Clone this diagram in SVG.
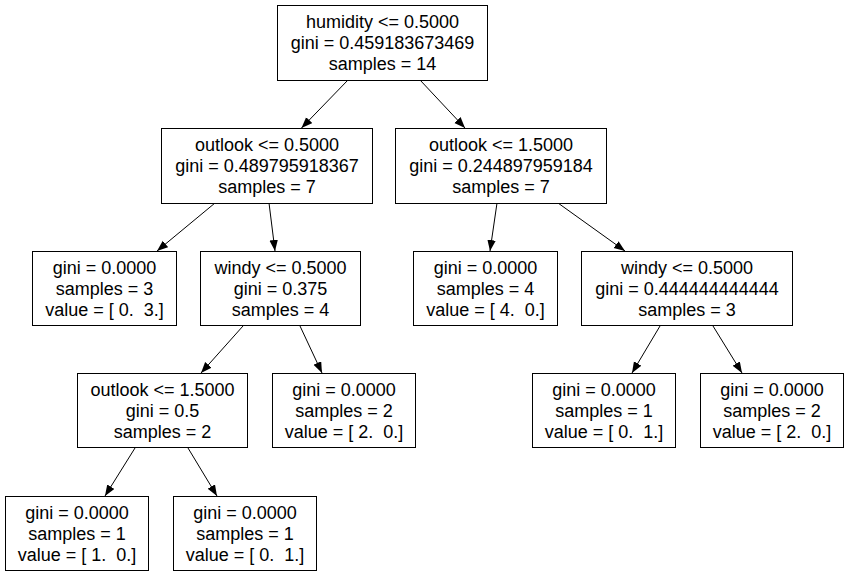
<svg xmlns="http://www.w3.org/2000/svg" width="848" height="576" viewBox="0 0 848 576">
<style>
.n rect{fill:#fff;stroke:#000;stroke-width:1}
.n text{font-family:"Liberation Sans",Arial,Helvetica,sans-serif;font-size:18px;fill:#000;text-anchor:middle;white-space:pre}
.e line{stroke:#000;stroke-width:1;marker-end:url(#ah)}
</style>
<defs>
<marker id="ah" markerUnits="userSpaceOnUse" markerWidth="12" markerHeight="9" refX="11" refY="4.25" orient="auto">
<path d="M0,0 L11,4.25 L0,8.5 z" fill="#000"/>
</marker>
</defs>
<rect width="848" height="576" fill="#fff"/>
<g id="edges" class="e">
<line x1="348" y1="80" x2="301.5" y2="128"/>
<line x1="420" y1="80" x2="465" y2="128"/>
<line x1="215" y1="203" x2="157" y2="251"/>
<line x1="269" y1="203" x2="275" y2="251"/>
<line x1="497" y1="203" x2="490" y2="251"/>
<line x1="558" y1="203" x2="625" y2="251"/>
<line x1="243" y1="326" x2="201" y2="373"/>
<line x1="300" y1="326" x2="322" y2="373"/>
<line x1="660" y1="326" x2="632" y2="373"/>
<line x1="713" y1="326" x2="742" y2="373"/>
<line x1="135" y1="448" x2="105" y2="496"/>
<line x1="188" y1="448" x2="217" y2="496"/>
</g>
<g id="n0" class="n">
<rect x="277.5" y="5.5" width="210" height="75"/>
<text x="382.5" y="27.5">humidity &lt;= 0.5000</text>
<text x="382.5" y="48.5">gini = 0.459183673469</text>
<text x="382.5" y="69.5">samples = 14</text>
</g>
<g id="n1" class="n">
<rect x="161.5" y="128.5" width="211" height="75"/>
<text x="267" y="150.5">outlook &lt;= 0.5000</text>
<text x="267" y="171.5">gini = 0.489795918367</text>
<text x="267" y="192.5">samples = 7</text>
</g>
<g id="n2" class="n">
<rect x="395.5" y="128.5" width="211" height="75"/>
<text x="501" y="150.5">outlook &lt;= 1.5000</text>
<text x="501" y="171.5">gini = 0.244897959184</text>
<text x="501" y="192.5">samples = 7</text>
</g>
<g id="n3" class="n">
<rect x="32.5" y="251.5" width="144" height="74"/>
<text x="104.5" y="273.5">gini = 0.0000</text>
<text x="104.5" y="294.5">samples = 3</text>
<text x="104.5" y="315.5">value = [ 0.  3.]</text>
</g>
<g id="n4" class="n">
<rect x="200.5" y="251.5" width="160" height="74"/>
<text x="280.5" y="273.5">windy &lt;= 0.5000</text>
<text x="280.5" y="294.5">gini = 0.375</text>
<text x="280.5" y="315.5">samples = 4</text>
</g>
<g id="n5" class="n">
<rect x="413.5" y="251.5" width="144" height="74"/>
<text x="485.5" y="273.5">gini = 0.0000</text>
<text x="485.5" y="294.5">samples = 4</text>
<text x="485.5" y="315.5">value = [ 4.  0.]</text>
</g>
<g id="n6" class="n">
<rect x="581.5" y="251.5" width="211" height="74"/>
<text x="687" y="273.5">windy &lt;= 0.5000</text>
<text x="687" y="294.5">gini = 0.444444444444</text>
<text x="687" y="315.5">samples = 3</text>
</g>
<g id="n7" class="n">
<rect x="77.5" y="373.5" width="170" height="74"/>
<text x="162.5" y="395.5">outlook &lt;= 1.5000</text>
<text x="162.5" y="416.5">gini = 0.5</text>
<text x="162.5" y="437.5">samples = 2</text>
</g>
<g id="n8" class="n">
<rect x="272.5" y="373.5" width="143" height="74"/>
<text x="344" y="395.5">gini = 0.0000</text>
<text x="344" y="416.5">samples = 2</text>
<text x="344" y="437.5">value = [ 2.  0.]</text>
</g>
<g id="n9" class="n">
<rect x="532.5" y="373.5" width="143" height="74"/>
<text x="604" y="395.5">gini = 0.0000</text>
<text x="604" y="416.5">samples = 1</text>
<text x="604" y="437.5">value = [ 0.  1.]</text>
</g>
<g id="n10" class="n">
<rect x="700.5" y="373.5" width="143" height="74"/>
<text x="772" y="395.5">gini = 0.0000</text>
<text x="772" y="416.5">samples = 2</text>
<text x="772" y="437.5">value = [ 2.  0.]</text>
</g>
<g id="n11" class="n">
<rect x="5.5" y="496.5" width="143" height="74"/>
<text x="77" y="518.5">gini = 0.0000</text>
<text x="77" y="539.5">samples = 1</text>
<text x="77" y="560.5">value = [ 1.  0.]</text>
</g>
<g id="n12" class="n">
<rect x="173.5" y="496.5" width="143" height="74"/>
<text x="245" y="518.5">gini = 0.0000</text>
<text x="245" y="539.5">samples = 1</text>
<text x="245" y="560.5">value = [ 0.  1.]</text>
</g>
</svg>
